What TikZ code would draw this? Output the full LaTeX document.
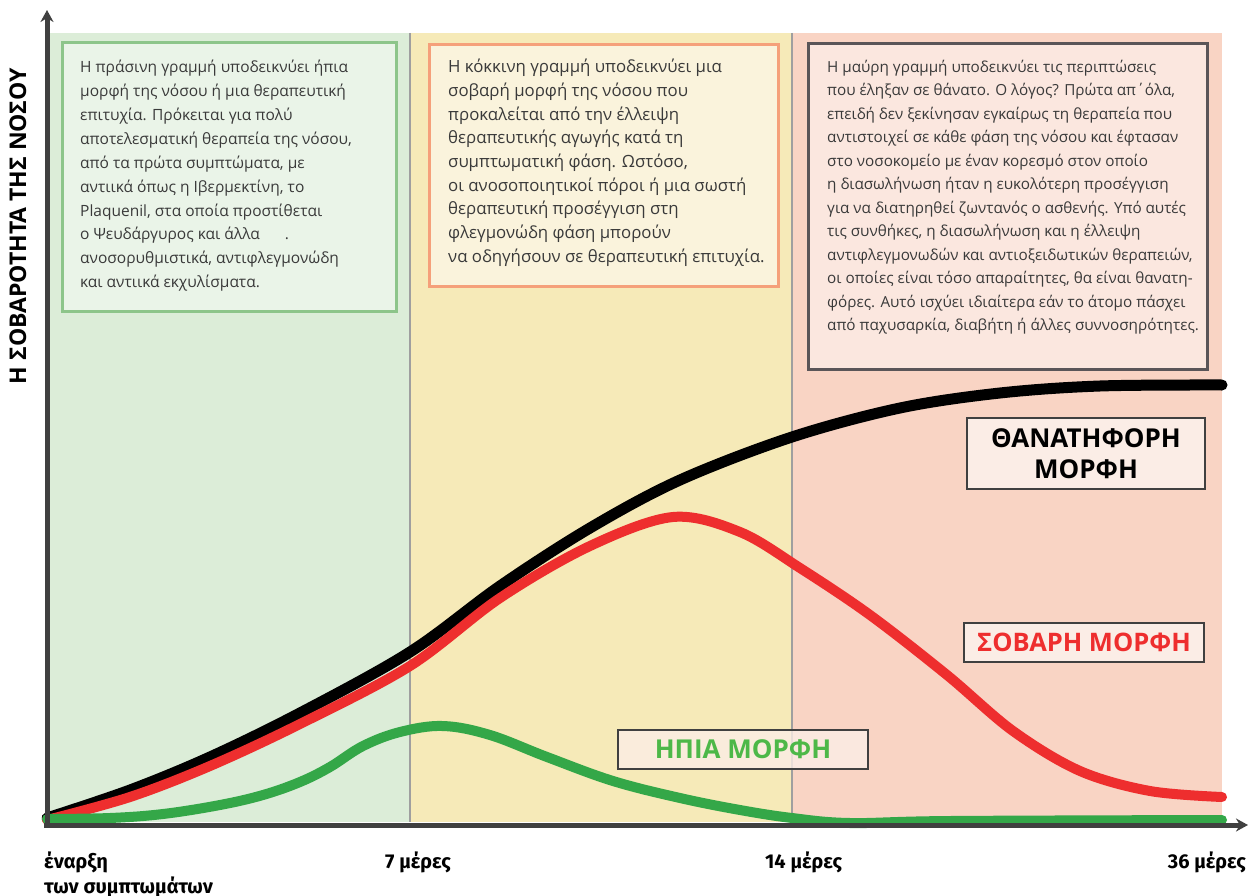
\documentclass[tikz,border=0pt]{standalone}
\usepackage{fontspec}
\setmainfont{Open Sans}
\newfontfamily\axisfont{Fira Sans}
\usetikzlibrary{arrows.meta}

\definecolor{bggreen}{HTML}{DCEDD8}
\definecolor{bgyellow}{HTML}{F6EAB8}
\definecolor{bgsalmon}{HTML}{F9D4C4}
\definecolor{pgreen}{HTML}{EAF4E8}
\definecolor{pyellow}{HTML}{FAF3DC}
\definecolor{psalmon}{HTML}{FBE7DF}
\definecolor{bgreen}{HTML}{8DC58A}
\definecolor{borange}{HTML}{F5A07A}
\definecolor{bdark}{HTML}{5A5558}
\definecolor{txt}{HTML}{3A3A3A}
\definecolor{axisgray}{HTML}{404040}
\definecolor{cred}{HTML}{EE2E2E}
\definecolor{cgreen}{HTML}{34A748}
\definecolor{lgreen}{HTML}{4DB848}
\definecolor{tagfill}{HTML}{FBEDE6}

\tikzset{
  panel/.style={draw, line width=3pt, anchor=north west, inner sep=0pt},
  paneltext/.style={anchor=north west, align=left, inner sep=0pt, text=txt},
  tag/.style={draw=axisgray, line width=2.5pt, fill=tagfill, inner sep=0pt, font=\bfseries},
  curve/.style={line cap=round, line join=round},
  axisline/.style={draw=axisgray, line width=5pt, -{Stealth[length=12pt,width=13pt]}},
  divider/.style={draw=gray!75, line width=1.2pt},
  daylabel/.style={font=\axisfont\bfseries\fontsize{20}{24}\selectfont, inner sep=0pt, text=black}
}

\begin{document}
\begin{tikzpicture}[x=1pt,y=-1pt]
\useasboundingbox (0,0) rectangle (1256,896);

% phase backgrounds
\fill[bggreen] (50,33) rectangle (410,822);
\fill[bgyellow] (410,33) rectangle (792,822);
\fill[bgsalmon] (792,33) rectangle (1222,822);
\draw[divider] (410,33) -- (410,822);
\draw[divider] (792,33) -- (792,822);

% explanation panels
\node[panel, draw=bgreen, fill=pgreen, minimum width=334pt, minimum height=269pt] (p1) at (61,41) {};
\node[panel, draw=borange, fill=pyellow, minimum width=349pt, minimum height=242pt] (p2) at (428,43) {};
\node[panel, draw=bdark, fill=psalmon, minimum width=399pt, minimum height=326pt] (p3) at (807,42) {};

\node[paneltext, font=\fontsize{15.5}{23.9}\selectfont] (t1) at (80,60) {%
Η πράσινη γραμμή υποδεικνύει ήπια\\
μορφή της νόσου ή μια θεραπευτική\\
επιτυχία. Πρόκειται για πολύ\\
αποτελεσματική θεραπεία της νόσου,\\
από τα πρώτα συμπτώματα, με\\
αντιικά όπως η Ιβερμεκτίνη, το\\
Plaquenil, στα οποία προστίθεται\\
ο Ψευδάργυρος και άλλα\hspace{1.6em}.\\
ανοσορυθμιστικά, αντιφλεγμονώδη\\
και αντιικά εκχυλίσματα.};

\node[paneltext, font=\fontsize{16.8}{23.7}\selectfont] (t2) at (448,59) {%
Η κόκκινη γραμμή υποδεικνύει μια\\
σοβαρή μορφή της νόσου που\\
προκαλείται από την έλλειψη\\
θεραπευτικής αγωγής κατά τη\\
συμπτωματική φάση. Ωστόσο,\\
οι ανοσοποιητικοί πόροι ή μια σωστή\\
θεραπευτική προσέγγιση στη\\
φλεγμονώδη φάση μπορούν\\
να οδηγήσουν σε θεραπευτική επιτυχία.};

\node[paneltext, font=\fontsize{15.25}{23.5}\selectfont] (t3) at (827,60) {%
Η μαύρη γραμμή υποδεικνύει τις περιπτώσεις\\
που έληξαν σε θάνατο. Ο λόγος? Πρώτα απ΄όλα,\\
επειδή δεν ξεκίνησαν εγκαίρως τη θεραπεία που\\
αντιστοιχεί σε κάθε φάση της νόσου και έφτασαν\\
στο νοσοκομείο με έναν κορεσμό στον οποίο\\
η διασωλήνωση ήταν η ευκολότερη προσέγγιση\\
για να διατηρηθεί ζωντανός ο ασθενής. Υπό αυτές\\
τις συνθήκες, η διασωλήνωση και η έλλειψη\\
αντιφλεγμονωδών και αντιοξειδωτικών θεραπειών,\\
οι οποίες είναι τόσο απαραίτητες, θα είναι θανατη-\\
φόρες. Αυτό ισχύει ιδιαίτερα εάν το άτομο πάσχει\\
από παχυσαρκία, διαβήτη ή άλλες συννοσηρότητες.};

% severity curves
\draw[curve, line width=11pt, black] plot[smooth, tension=0.55] coordinates {
 (47,818) (130,790) (210,757) (300,713) (410,652) (500,586) (590,528)
 (680,480) (792,437) (900,408) (1000,393) (1100,386) (1222,385)};
\draw[curve, line width=10pt, cred] plot[smooth, tension=0.55] coordinates {
 (47,820) (130,797) (210,766) (300,724) (410,666) (500,598) (590,546)
 (673,517) (740,532) (800,568) (870,615) (947,675) (1013,731) (1080,771)
 (1150,791) (1222,797)};
\draw[curve, line width=10pt, cgreen] plot[smooth, tension=0.6] coordinates {
 (47,819) (110,818) (163,814) (220,805) (263,795) (300,782) (330,767)
 (363,746) (400,732) (443,726) (490,735) (547,757) (613,781) (680,798)
 (740,810) (792,818) (850,823) (950,821) (1222,820)};

% axes
\coordinate (origin) at (47,827);
\coordinate (ytip) at (47,10);
\coordinate (xstart) at (44,825);
\coordinate (xtip) at (1248,825);
\draw[axisline] (origin) -- (ytip);
\draw[axisline] (xstart) -- (xtip);

% curve labels
\node[tag, minimum width=238pt, minimum height=71pt, align=center,
      font=\bfseries\fontsize{26}{31}\selectfont, text=black] (lblfatal) at (1086,453.5) {ΘΑΝΑΤΗΦΟΡΗ\\ΜΟΡΦΗ};
\node[tag, minimum width=240pt, minimum height=39pt,
      font=\bfseries\fontsize{25.5}{28}\selectfont, text=cred] (lblsevere) at (1084,642.5) {ΣΟΒΑΡΗ ΜΟΡΦΗ};
\node[tag, fill opacity=0.8, text opacity=1, minimum width=250pt, minimum height=39pt,
      font=\bfseries\fontsize{26}{28}\selectfont, text=lgreen] (lblmild) at (743,749.5) {ΗΠΙΑ ΜΟΡΦΗ};

% axis titles
\node[rotate=90, font=\bfseries\fontsize{23}{26}\selectfont, text=black, inner sep=0pt] (ytitle) at (18,226) {Η ΣΟΒΑΡΟΤΗΤΑ ΤΗΣ ΝΟΣΟΥ};
\node[daylabel, anchor=base west] (d0) at (44,868) {έναρξη};
\node[daylabel, anchor=base west] (d0b) at (44,893) {των συμπτωμάτων};
\node[daylabel, anchor=base west] (d7) at (385,868) {7 μέρες};
\node[daylabel, anchor=base west] (d14) at (765,868) {14 μέρες};
\node[daylabel, anchor=base east] (d36) at (1246,868) {36 μέρες};
\end{tikzpicture}
\end{document}
